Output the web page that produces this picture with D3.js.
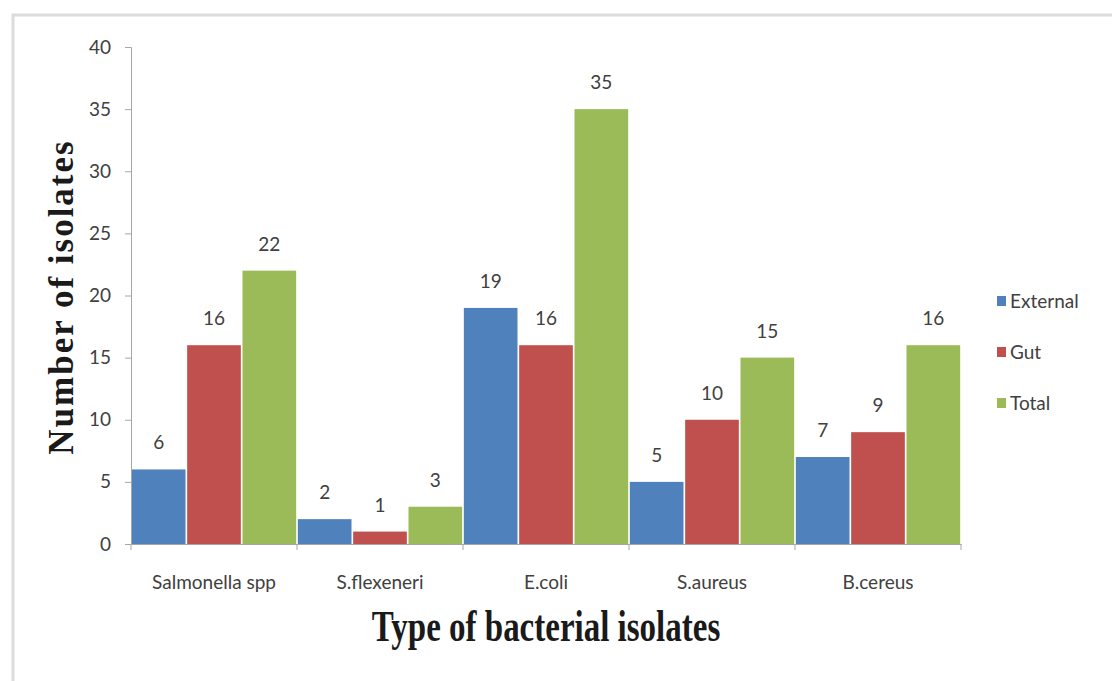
<!DOCTYPE html>
<html>
<head>
<meta charset="utf-8">
<script src="https://cdn.jsdelivr.net/npm/d3@7"></script>
<style>
  body { margin: 0; background: #fff; }
  svg { display: block; }
</style>
</head>
<body>
<div class="chart"></div>
<script>
const categories = ["Salmonella spp", "S.flexeneri", "E.coli", "S.aureus", "B.cereus"];
const seriesNames = ["External", "Gut", "Total"];
const external = [6, 2, 19, 5, 7];
const gut = [16, 1, 16, 10, 9];
const total = [22, 3, 35, 15, 16];
const yTicks = [0, 5, 10, 15, 20, 25, 30, 35, 40];
const colors = ["#4f81bd", "#c0504d", "#9bbb59"];

const width = 1112;
const height = 681;
const margin = {t:47, r:151, b:136, l:131};
const font = "Lato, 'Open Sans', sans-serif";

const svg = d3.select(".chart").append("svg")
  .attr("width", width)
  .attr("height", height);

// frame of the figure (top and left edge visible)
svg.append("path")
  .attr("d", `M13,${height} V15 H${width}`)
  .attr("fill", "none")
  .attr("stroke", "#dcdcdc")
  .attr("stroke-width", 3);

const x0 = d3.scaleBand()
  .domain(categories)
  .range([margin.l, width - margin.r])
  .paddingInner(0.01)
  .paddingOuter(0.005);

const x1 = d3.scaleBand()
  .domain(seriesNames)
  .range([0, x0.bandwidth()])
  .paddingInner(0.03);

const y = d3.scaleLinear()
  .domain([0, 40])
  .range([height - margin.b - 1, margin.t]);

const rows = categories.map((c, i) => ({
  cat: c,
  vals: [external[i], gut[i], total[i]]
}));

// bars
const groups = svg.append("g").selectAll("g")
  .data(rows)
  .join("g")
  .attr("transform", d => `translate(${x0(d.cat)},0)`);

groups.selectAll("rect")
  .data(d => d.vals.map((v, j) => ({name: seriesNames[j], v: v, j: j})))
  .join("rect")
  .attr("x", d => x1(d.name))
  .attr("y", d => y(d.v))
  .attr("width", x1.bandwidth())
  .attr("height", d => y(0) - y(d.v))
  .attr("fill", d => colors[d.j]);

groups.selectAll("text")
  .data(d => d.vals.map((v, j) => ({name: seriesNames[j], v: v})))
  .join("text")
  .attr("x", d => x1(d.name) + x1.bandwidth() / 2)
  .attr("y", d => y(d.v) - 20)
  .attr("text-anchor", "middle")
  .attr("font-family", font)
  .attr("font-size", 19)
  .attr("fill", "#404040")
  .text(d => d.v);

// y axis
const yAxis = svg.append("g")
  .attr("transform", `translate(${margin.l},0)`)
  .call(d3.axisLeft(y).tickValues(yTicks).tickSize(6).tickPadding(14));
yAxis.select(".domain").attr("stroke", "#a6a6a6");
yAxis.selectAll(".tick line").attr("stroke", "#a6a6a6");
yAxis.selectAll(".tick text")
  .attr("font-family", font)
  .attr("font-size", 19)
  .attr("fill", "#404040");

// x axis
const xAxis = svg.append("g")
  .attr("transform", `translate(0,${y(0)})`)
  .call(d3.axisBottom(x0).tickSize(0).tickPadding(32));
xAxis.select(".domain").attr("stroke", "#a6a6a6");
xAxis.selectAll(".tick text")
  .attr("font-family", font)
  .attr("font-size", 19)
  .attr("fill", "#404040");
// separators between categories
const bounds = categories.map(c => x0(c) - x0.step() * x0.paddingInner() / 2).concat([width - margin.r]);
xAxis.selectAll(".sep")
  .data(bounds)
  .join("line")
  .attr("class", "sep")
  .attr("x1", d => d).attr("x2", d => d)
  .attr("y1", 0).attr("y2", 6)
  .attr("stroke", "#a6a6a6");

// axis titles (the x title is a tall, narrow serif in the original)
svg.append("text")
  .attr("transform", "translate(546,641) scale(1,1.35)")
  .attr("text-anchor", "middle")
  .attr("font-family", "'Liberation Serif', 'Times New Roman', serif")
  .attr("font-weight", "bold")
  .attr("font-size", 33)
  .attr("fill", "#1a1a1a")
  .text("Type of bacterial isolates");

svg.append("text")
  .attr("transform", "translate(73,297) rotate(-90)")
  .attr("text-anchor", "middle")
  .attr("font-family", "'Liberation Serif', 'Times New Roman', serif")
  .attr("font-weight", "bold")
  .attr("font-size", 35)
  .attr("letter-spacing", 2)
  .attr("fill", "#1a1a1a")
  .text("Number of isolates");

// legend
const legend = svg.append("g")
  .attr("transform", "translate(997,301)")
  .selectAll("g")
  .data(seriesNames)
  .join("g")
  .attr("transform", (d, i) => `translate(0,${i * 51})`);
legend.append("rect")
  .attr("x", 0).attr("y", -5)
  .attr("width", 9).attr("height", 10)
  .attr("fill", (d, i) => colors[i]);
legend.append("text")
  .attr("x", 13).attr("y", 7)
  .attr("font-family", font)
  .attr("font-size", 19)
  .attr("fill", "#404040")
  .text(d => d);
</script>
</body>
</html>
